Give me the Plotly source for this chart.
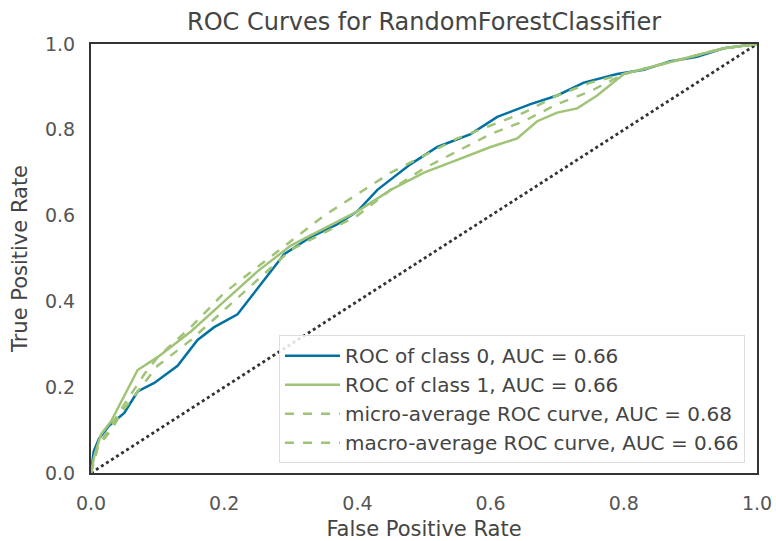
import plotly.graph_objects as go

# ROC of class 0 (blue)
fpr_c0 = [0.0, 0.004, 0.012, 0.027, 0.05, 0.07, 0.095, 0.13, 0.16, 0.185, 0.22, 0.25, 0.29,
          0.33, 0.37, 0.40, 0.43, 0.48, 0.52, 0.57, 0.61, 0.66, 0.70, 0.74, 0.79, 0.83,
          0.87, 0.91, 0.95, 1.0]
tpr_c0 = [0.0, 0.05, 0.08, 0.11, 0.14, 0.19, 0.21, 0.25, 0.31, 0.34, 0.37, 0.43, 0.51,
          0.55, 0.58, 0.61, 0.66, 0.72, 0.76, 0.79, 0.83, 0.86, 0.88, 0.91, 0.93, 0.94,
          0.96, 0.97, 0.99, 1.0]

# ROC of class 1 (green solid)
fpr_c1 = [0.0, 0.005, 0.015, 0.03, 0.05, 0.07, 0.10, 0.15, 0.20, 0.25, 0.30, 0.35, 0.40,
          0.45, 0.50, 0.55, 0.60, 0.64, 0.67, 0.70, 0.73, 0.76, 0.80, 0.85, 0.90, 0.95, 1.0]
tpr_c1 = [0.0, 0.04, 0.09, 0.12, 0.18, 0.24, 0.27, 0.33, 0.40, 0.47, 0.53, 0.57, 0.61,
          0.66, 0.70, 0.73, 0.76, 0.78, 0.82, 0.84, 0.85, 0.88, 0.93, 0.95, 0.97, 0.99, 1.0]

# micro-average ROC curve (green dashed)
fpr_micro = [0.0, 0.01, 0.03, 0.05, 0.08, 0.10, 0.15, 0.20, 0.25, 0.30, 0.35, 0.40, 0.45,
             0.50, 0.55, 0.60, 0.65, 0.70, 0.75, 0.80, 0.85, 0.90, 0.95, 1.0]
tpr_micro = [0.0, 0.06, 0.11, 0.16, 0.23, 0.27, 0.34, 0.42, 0.48, 0.54, 0.60, 0.65, 0.70,
             0.74, 0.78, 0.81, 0.84, 0.88, 0.91, 0.93, 0.95, 0.97, 0.99, 1.0]

# macro-average ROC curve (green dashed)
fpr_macro = [0.0, 0.01, 0.03, 0.05, 0.08, 0.10, 0.15, 0.20, 0.25, 0.30, 0.35, 0.40, 0.45,
             0.50, 0.55, 0.60, 0.65, 0.70, 0.75, 0.80, 0.85, 0.90, 0.95, 1.0]
tpr_macro = [0.0, 0.06, 0.10, 0.15, 0.21, 0.25, 0.31, 0.38, 0.45, 0.52, 0.56, 0.60, 0.66,
             0.71, 0.75, 0.79, 0.82, 0.86, 0.89, 0.93, 0.95, 0.97, 0.99, 1.0]

diag = [0.0, 1.0]

labels = ["ROC of class 0, AUC = 0.66", "ROC of class 1, AUC = 0.66",
          "micro-average ROC curve, AUC = 0.68", "macro-average ROC curve, AUC = 0.66"]

BLUE = "#0272a2"
GREEN = "#9fc377"
FONT = "DejaVu Sans"

fig = go.Figure()
fig.add_trace(go.Scatter(x=diag, y=diag, mode="lines", showlegend=False,
                         line=dict(color="#333333", width=2.8, dash="dot")))
fig.add_trace(go.Scatter(x=fpr_c0, y=tpr_c0, mode="lines", name=labels[0],
                         line=dict(color=BLUE, width=2.5)))
fig.add_trace(go.Scatter(x=fpr_c1, y=tpr_c1, mode="lines", name=labels[1],
                         line=dict(color=GREEN, width=2.5)))
fig.add_trace(go.Scatter(x=fpr_micro, y=tpr_micro, mode="lines", name=labels[2],
                         line=dict(color=GREEN, width=2.5, dash="dash")))
fig.add_trace(go.Scatter(x=fpr_macro, y=tpr_macro, mode="lines", name=labels[3],
                         line=dict(color=GREEN, width=2.5, dash="dash")))

axis_common = dict(range=[0, 1], dtick=0.2, tickformat=".1f", showgrid=False, zeroline=False,
                   showline=True, linecolor="#333333", linewidth=2, mirror=True,
                   ticks="outside", tickcolor="rgba(0,0,0,0)",
                   tickfont=dict(family=FONT, size=19, color="#555555"),
                   title_font=dict(family=FONT, size=21, color="#444444"))

fig.update_layout(
    width=776, height=541,
    margin=dict(l=91, r=19, t=44, b=68, pad=0),
    paper_bgcolor="white", plot_bgcolor="white",
    title=dict(text="ROC Curves for RandomForestClassifier", x=0.5, xref="paper",
               xanchor="center", y=1 - 22 / 541, yanchor="middle",
               font=dict(family=FONT, size=24, color="#444444")),
    xaxis=dict(title=dict(text="False Positive Rate"), ticklen=12, automargin=False,
               **axis_common),
    yaxis=dict(title=dict(text="True Positive Rate", standoff=12), ticklen=10,
               automargin=True, **axis_common),
    legend=dict(x=0.982, y=0.023, xanchor="right", yanchor="bottom",
                bgcolor="rgba(255,255,255,0.85)", bordercolor="#dddddd", borderwidth=1,
                font=dict(family=FONT, size=20, color="#444444"),
                itemwidth=55, tracegroupgap=0),
)

fig.write_html("out.html", config={"displayModeBar": False},
               post_script="document.body.style.margin='0';")
